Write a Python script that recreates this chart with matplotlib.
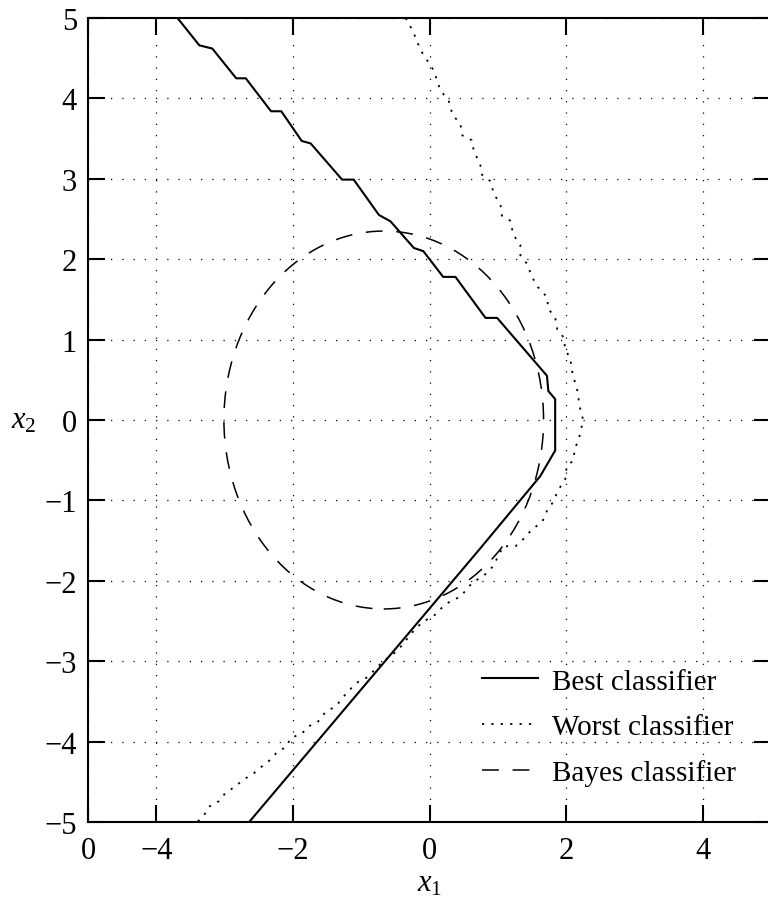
import matplotlib
matplotlib.use("Agg")
import matplotlib.pyplot as plt
from matplotlib.patches import Ellipse

plt.rcParams["font.family"] = ["Liberation Serif", "DejaVu Serif"]
plt.rcParams["mathtext.fontset"] = "custom"
plt.rcParams["mathtext.it"] = "Liberation Serif:italic"
plt.rcParams["mathtext.rm"] = "Liberation Serif"

# decision boundaries
best_x = [-3.69, -3.37, -3.18, -2.83, -2.69, -2.32, -2.17, -1.87, -1.74, -1.28,
          -1.11, -0.74, -0.57, -0.23, -0.09, 0.20, 0.38, 0.82, 0.99, 1.72,
          1.74, 1.84, 1.84, 1.62, 0.74, -0.82, -2.64]
best_y = [5.0, 4.66, 4.62, 4.25, 4.25, 3.84, 3.84, 3.47, 3.44, 2.99,
          2.99, 2.55, 2.47, 2.14, 2.10, 1.78, 1.78, 1.27, 1.27, 0.55,
          0.36, 0.26, -0.38, -0.70, -1.60, -3.17, -5.0]

worst_x = [-0.35, -0.25, -0.13, 0.06, 0.16, 0.28, 0.34, 0.45, 0.48, 0.62,
           0.65, 0.74, 0.77, 0.89, 0.94, 1.04, 1.06, 1.18, 1.23, 1.33,
           1.33, 1.43, 1.50, 1.59, 1.72, 1.74, 1.84, 1.87, 1.96, 1.99,
           2.06, 2.10, 2.16, 2.20, 2.25, 2.20, 2.13, 2.10, 2.01, 1.99,
           1.88, 1.81, 1.72, 1.65, 1.50, 1.40, 1.26, 1.08, 0.93, 0.79,
           0.63, 0.45, 0.31, 0.16, 0.06, -0.10, -0.23, -0.47, -0.69, -0.91,
           -1.05, -1.20, -1.37, -1.52, -1.64, -1.77, -1.88, -2.03, -2.10, -2.22,
           -2.35, -2.47, -2.58, -2.72, -2.86, -2.98, -3.08, -3.23, -3.31, -3.40]
worst_y = [5.0, 4.85, 4.60, 4.35, 4.10, 3.97, 3.79, 3.69, 3.54, 3.48,
           3.34, 3.19, 3.05, 2.97, 2.82, 2.67, 2.54, 2.48, 2.30, 2.18,
           2.05, 1.94, 1.78, 1.65, 1.53, 1.38, 1.28, 1.13, 1.03, 0.88,
           0.76, 0.55, 0.39, 0.16, 0.0, -0.19, -0.36, -0.51, -0.57, -0.73,
           -0.88, -1.02, -1.13, -1.27, -1.36, -1.46, -1.57, -1.57, -1.82, -1.94,
           -2.02, -2.20, -2.25, -2.35, -2.44, -2.51, -2.62, -2.87, -3.01, -3.20,
           -3.26, -3.38, -3.56, -3.63, -3.76, -3.81, -3.91, -3.95, -4.07, -4.12,
           -4.24, -4.32, -4.40, -4.47, -4.57, -4.63, -4.74, -4.81, -4.93, -5.0]

# Bayes boundary is a circle
bayes_center = (-0.67, 0.0)
bayes_width = 4.68
bayes_height = 4.70

xticks = [-5, -4, -2, 0, 2, 4]
xtick_labels = ["0", "\u22124", "\u22122", "0", "2", "4"]
yticks = [-5, -4, -3, -2, -1, 0, 1, 2, 3, 4, 5]
ytick_labels = ["\u22125", "\u22124", "\u22123", "\u22122", "\u22121", "0", "1", "2", "3", "4", "5"]

fig = plt.figure(figsize=(7.68, 9.12), dpi=100)
ax = fig.add_axes([88 / 768, 89 / 912, 683 / 768, 804 / 912])

ax.plot(best_x, best_y, color="k", lw=1.5, label="Best classifier")
ax.plot(worst_x, worst_y, color="k", lw=1.3, linestyle=(0, (1.2, 4)), label="Worst classifier")
ax.add_patch(Ellipse(bayes_center, bayes_width, bayes_height, fill=False,
                     edgecolor="k", lw=1.1, linestyle=(0, (11, 9))))
ax.plot([], [], color="k", lw=1.1, linestyle=(0, (11, 9)), label="Bayes classifier")

ax.set_xlim(-5, 5)
ax.set_ylim(-5, 5)
ax.set_xticks(xticks)
ax.set_xticklabels(xtick_labels)
ax.set_yticks(yticks)
ax.set_yticklabels(ytick_labels)
ax.tick_params(direction="in", length=12, width=1.5, labelsize=22,
               top=True, right=True)
ax.tick_params(axis="x", pad=10)
ax.tick_params(axis="y", pad=8)
ax.grid(True, color="k", lw=0.9, linestyle=(0, (1, 8)))
for s in ax.spines.values():
    s.set_linewidth(1.5)

ax.set_xlabel("$x_1$", fontsize=22)
ax.xaxis.set_label_coords(0.5, -0.058)
ax.set_ylabel("$x_2$", fontsize=22, rotation=0, ha="center", va="center")
ax.yaxis.set_label_coords(-0.094, 0.5)

ax.legend(loc="center left", bbox_to_anchor=(0.577, 0.118), frameon=False,
          fontsize=21, borderpad=0, borderaxespad=0, handlelength=1.9,
          handletextpad=0.48, labelspacing=0.65)

fig.savefig("out.png", dpi=100)
